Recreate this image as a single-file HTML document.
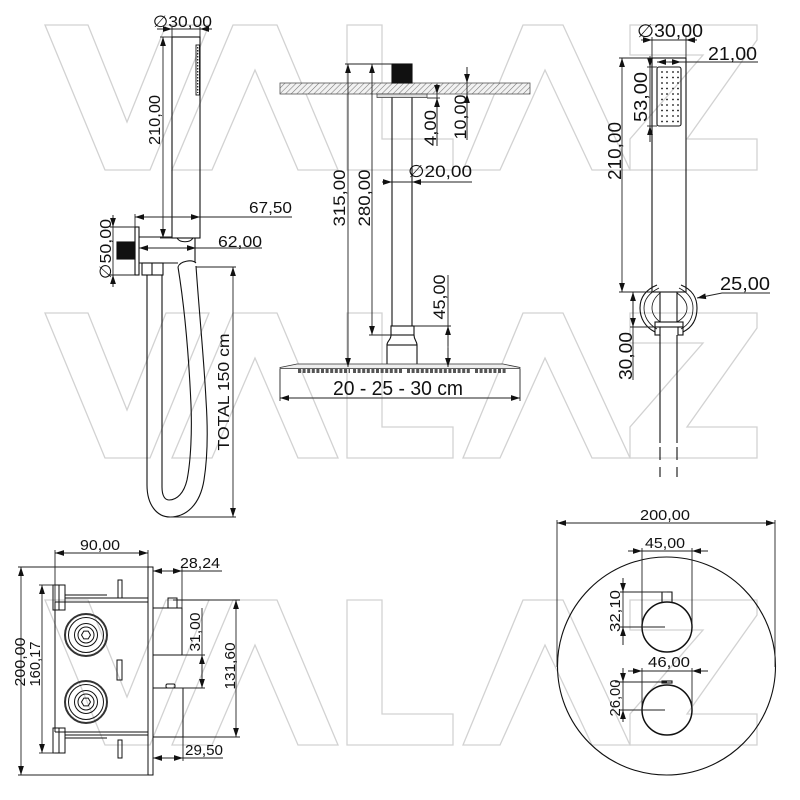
<!DOCTYPE html>
<html><head><meta charset="utf-8"><style>
html,body{margin:0;padding:0;background:#fff;}
svg{display:block;}
text{font-family:"Liberation Sans","DejaVu Sans",sans-serif;fill:#111;}
</style></head><body>
<svg width="800" height="800" viewBox="0 0 800 800" xmlns="http://www.w3.org/2000/svg">
<defs>
<marker id="ar" markerUnits="userSpaceOnUse" markerWidth="10" markerHeight="7" refX="9" refY="3.5" orient="auto-start-reverse" viewBox="0 0 10 7"><path d="M0,0.6 L9,3.5 L0,6.4 Z" fill="#111"/></marker>
<pattern id="hatch" width="4" height="4" patternUnits="userSpaceOnUse" patternTransform="rotate(45)"><rect width="4" height="4" fill="#f2f2f2"/><line x1="0" y1="0" x2="0" y2="4" stroke="#777" stroke-width="1.1"/></pattern>
</defs>
<rect width="800" height="800" fill="#fff"/>

<!-- watermark -->
<g fill="none" stroke="#d2d2d2" stroke-width="1.3">
 <g>
  <path d="M45,25 L88,25 L127,122 L166,25 L209,25 L150,170 L105,170 Z"/>
  <path d="M233,25 L277,25 L338,170 L298,170 L255,70 L212,170 L172,170 Z"/>
  <path d="M347,25 L382,25 L382,139 L453,139 L453,170 L347,170 Z"/>
  <path d="M523,25 L563,25 L630,170 L592,170 L545,70 L500,170 L463,170 Z"/>
  <path d="M630,25 L757,25 L757,40 L687,139 L757,139 L757,170 L630,170 L630,139 L703,55 L630,55 Z"/>
 </g>
 <g transform="translate(0,288)">
  <path d="M45,25 L88,25 L127,122 L166,25 L209,25 L150,170 L105,170 Z"/>
  <path d="M233,25 L277,25 L338,170 L298,170 L255,70 L212,170 L172,170 Z"/>
  <path d="M347,25 L382,25 L382,139 L453,139 L453,170 L347,170 Z"/>
  <path d="M523,25 L563,25 L630,170 L592,170 L545,70 L500,170 L463,170 Z"/>
  <path d="M630,25 L757,25 L757,40 L687,139 L757,139 L757,170 L630,170 L630,139 L703,55 L630,55 Z"/>
 </g>
 <g transform="translate(0,575)">
  <path d="M45,25 L88,25 L127,122 L166,25 L209,25 L150,170 L105,170 Z"/>
  <path d="M233,25 L277,25 L338,170 L298,170 L255,70 L212,170 L172,170 Z"/>
  <path d="M347,25 L382,25 L382,139 L453,139 L453,170 L347,170 Z"/>
  <path d="M523,25 L563,25 L630,170 L592,170 L545,70 L500,170 L463,170 Z"/>
  <path d="M630,25 L757,25 L757,40 L687,139 L757,139 L757,170 L630,170 L630,139 L703,55 L630,55 Z"/>
 </g>
</g>

<!-- ============ TOP-LEFT HAND SHOWER ============ -->
<g stroke="#111" stroke-width="1.1" fill="none">
 <rect x="172" y="37" width="28" height="201"/>
 <rect x="196" y="45" width="3.5" height="50" stroke-width="0.9"/>
 <line x1="197.7" y1="47" x2="197.7" y2="93" stroke-dasharray="1.5 1.5" stroke-width="1.2"/>
 <rect x="135" y="227" width="4" height="48"/>
 <rect x="117" y="242" width="18" height="17" fill="#111"/>
 <path d="M139,237 H172"/>
 <path d="M139,263 H178"/>
 <path d="M195,238 V262"/>
 <path d="M177,238 C180,243 190,243 193,238"/>
 <path d="M178,267 C180,261 192,259 196,263"/>
 <rect x="142" y="263" width="21" height="12"/>
 <line x1="152" y1="263" x2="152" y2="275"/>
 <path d="M147,275 L147,485 C147,505 157,517 170,517 C186,517 200,505 204,480 C208,455 208,430 206,400 C204,360 199,310 196,266"/>
 <path d="M162,275 L162,487 C162,496 165,500 169,500 C177,500 184,493 187,480 C191,460 192,430 191,405 C189,360 185,310 178,267"/>
</g>
<g stroke="#222" stroke-width="0.9" fill="none">
 <line x1="157" y1="29" x2="212" y2="29"/>
 <line x1="157" y1="29" x2="172" y2="29" marker-end="url(#ar)"/>
 <line x1="212" y1="29" x2="200" y2="29" marker-end="url(#ar)"/>
 <line x1="172" y1="27" x2="172" y2="37"/>
 <line x1="200" y1="27" x2="200" y2="37"/>
 <line x1="163" y1="37" x2="163" y2="238" marker-start="url(#ar)" marker-end="url(#ar)"/>
 <line x1="160" y1="37" x2="172" y2="37"/>
 <line x1="160" y1="238" x2="172" y2="238"/>
 <line x1="135" y1="217" x2="200" y2="217" marker-start="url(#ar)" marker-end="url(#ar)"/>
 <line x1="200" y1="217" x2="292" y2="217"/>
 <line x1="135" y1="214" x2="135" y2="227"/>
 <line x1="139" y1="248" x2="196" y2="248" marker-start="url(#ar)" marker-end="url(#ar)"/>
 <line x1="196" y1="248" x2="262" y2="248"/>
 <line x1="113" y1="215" x2="113" y2="287"/>
 <line x1="113" y1="215" x2="113" y2="227" marker-end="url(#ar)"/>
 <line x1="113" y1="287" x2="113" y2="275" marker-end="url(#ar)"/>
 <line x1="110" y1="227" x2="135" y2="227"/>
 <line x1="110" y1="275" x2="135" y2="275"/>
 <line x1="233" y1="267" x2="233" y2="517" marker-start="url(#ar)" marker-end="url(#ar)"/>
 <line x1="196" y1="267" x2="236" y2="267"/>
 <line x1="170" y1="517" x2="236" y2="517"/>
</g>
<text x="153" y="27" font-size="16" textLength="59" lengthAdjust="spacingAndGlyphs">∅30,00</text>
<text x="249" y="213" font-size="16" textLength="43" lengthAdjust="spacingAndGlyphs">67,50</text>
<text x="218" y="247" font-size="16" textLength="44" lengthAdjust="spacingAndGlyphs">62,00</text>
<text transform="translate(160,120) rotate(-90)" text-anchor="middle" font-size="16" textLength="50" lengthAdjust="spacingAndGlyphs">210,00</text>
<text transform="translate(111,249) rotate(-90)" text-anchor="middle" font-size="16" textLength="60" lengthAdjust="spacingAndGlyphs">∅50,00</text>
<text transform="translate(229,392) rotate(-90)" text-anchor="middle" font-size="16" textLength="117" lengthAdjust="spacingAndGlyphs">TOTAL 150 cm</text>

<!-- ============ CENTER CEILING SHOWER ============ -->
<rect x="280" y="83" width="250" height="11" fill="url(#hatch)" stroke="#555" stroke-width="0.8"/>
<g stroke="#111" stroke-width="1.1" fill="none">
 <rect x="392" y="64" width="20" height="19" fill="#111"/>
 <rect x="377" y="94" width="50" height="3.5" fill="#ddd" stroke="#444" stroke-width="0.8"/>
 <line x1="392" y1="97.5" x2="392" y2="326"/>
 <line x1="412" y1="97.5" x2="412" y2="326"/>
 <rect x="391" y="326" width="23" height="9"/>
 <path d="M391,335 C391,340 387,341 387,345"/>
 <path d="M414,335 C414,340 417,341 417,345"/>
 <rect x="387" y="345" width="30" height="20"/>
 <path d="M280,367.5 L297,364 L503,364 L520,367.5 L520,368.5 L280,368.5 Z" fill="#eee" stroke="#333" stroke-width="0.8"/>
</g>
<g stroke="#555" stroke-width="4" stroke-dasharray="3 1.6">
 <line x1="298" y1="371" x2="350" y2="371"/>
 <line x1="353" y1="371" x2="403" y2="371"/>
 <line x1="407" y1="371" x2="470" y2="371"/>
 <line x1="475" y1="371" x2="507" y2="371"/>
</g>
<g stroke="#222" stroke-width="0.9" fill="none">
 <line x1="348" y1="64" x2="348" y2="367" marker-start="url(#ar)" marker-end="url(#ar)"/>
 <line x1="345" y1="64" x2="392" y2="64"/>
 <line x1="372" y1="64" x2="372" y2="335" marker-start="url(#ar)" marker-end="url(#ar)"/>
 <line x1="369" y1="335" x2="391" y2="335"/>
 <line x1="467" y1="67" x2="467" y2="140"/>
 <line x1="467" y1="67" x2="467" y2="83" marker-end="url(#ar)"/>
 <line x1="467" y1="140" x2="467" y2="94" marker-end="url(#ar)"/>
 <line x1="437" y1="84" x2="437" y2="146"/>
 <line x1="437" y1="84" x2="437" y2="94" marker-end="url(#ar)"/>
 <line x1="437" y1="146" x2="437" y2="98" marker-end="url(#ar)"/>
 <line x1="427" y1="98" x2="440" y2="98"/>
 <line x1="382" y1="182" x2="472" y2="182"/>
 <line x1="382" y1="182" x2="392" y2="182" marker-end="url(#ar)"/>
 <line x1="422" y1="182" x2="412" y2="182" marker-end="url(#ar)"/>
 <line x1="448" y1="275" x2="448" y2="367"/>
 <line x1="448" y1="346" x2="448" y2="326" marker-end="url(#ar)"/>
 <line x1="448" y1="348" x2="448" y2="367" marker-end="url(#ar)"/>
 <line x1="414" y1="326" x2="451" y2="326"/>
 <line x1="280" y1="398" x2="520" y2="398" marker-start="url(#ar)" marker-end="url(#ar)"/>
 <line x1="280" y1="369" x2="280" y2="401"/>
 <line x1="520" y1="369" x2="520" y2="401"/>
</g>
<text x="408" y="177" font-size="17" textLength="64" lengthAdjust="spacingAndGlyphs">∅20,00</text>
<text x="333" y="395" font-size="20" textLength="130" lengthAdjust="spacingAndGlyphs">20 - 25 - 30 cm</text>
<text transform="translate(345,198) rotate(-90)" text-anchor="middle" font-size="17" textLength="57" lengthAdjust="spacingAndGlyphs">315,00</text>
<text transform="translate(370,198) rotate(-90)" text-anchor="middle" font-size="17" textLength="57" lengthAdjust="spacingAndGlyphs">280,00</text>
<text transform="translate(436,128) rotate(-90)" text-anchor="middle" font-size="17" textLength="36" lengthAdjust="spacingAndGlyphs">4,00</text>
<text transform="translate(466,117) rotate(-90)" text-anchor="middle" font-size="17" textLength="45" lengthAdjust="spacingAndGlyphs">10,00</text>
<text transform="translate(445,297) rotate(-90)" text-anchor="middle" font-size="17" textLength="45" lengthAdjust="spacingAndGlyphs">45,00</text>

<!-- ============ RIGHT HAND SHOWER ============ -->
<g stroke="#111" stroke-width="1.1" fill="none">
 <rect x="652" y="58" width="34" height="234"/>
 <rect x="657" y="67" width="24" height="59" rx="2"/>
 <path d="M657,285 C645,290 640,298 640,308 C640,318 645,327 655,332"/>
 <path d="M659,288 C649,293 644,300 644,308 C644,316 648,324 657,329" stroke-width="0.8"/>
 <path d="M681,285 C693,290 697,298 697,308 C697,318 693,327 683,332"/>
 <path d="M679,288 C689,293 693,300 693,308 C693,316 690,324 681,329" stroke-width="0.8"/>
 <path d="M660,293 C654,298 652,303 652,308 C652,313 655,318 660,322" stroke-width="0.8"/>
 <path d="M677,293 C684,298 687,303 687,308 C687,313 684,318 677,322" stroke-width="0.8"/>
 <line x1="660" y1="292" x2="660" y2="322"/>
 <line x1="677" y1="292" x2="677" y2="322"/>
 <rect x="655" y="322" width="28" height="5"/>
 <rect x="655" y="327" width="5" height="8"/>
 <rect x="678" y="327" width="5" height="8"/>
 <line x1="660" y1="335" x2="660" y2="443"/>
 <line x1="677" y1="335" x2="677" y2="443"/>
 <line x1="660" y1="447" x2="660" y2="460"/>
 <line x1="677" y1="447" x2="677" y2="460"/>
 <line x1="660" y1="467" x2="660" y2="477"/>
 <line x1="677" y1="467" x2="677" y2="477"/>
</g>
<g fill="#111">
 <circle cx="662" cy="72" r="0.9"/><circle cx="667" cy="72" r="0.9"/><circle cx="673" cy="72" r="0.9"/><circle cx="678" cy="72" r="0.9"/>
 <circle cx="662" cy="77.5" r="0.9"/><circle cx="667" cy="77.5" r="0.9"/><circle cx="673" cy="77.5" r="0.9"/><circle cx="678" cy="77.5" r="0.9"/>
 <circle cx="662" cy="83" r="0.9"/><circle cx="667" cy="83" r="0.9"/><circle cx="673" cy="83" r="0.9"/><circle cx="678" cy="83" r="0.9"/>
 <circle cx="662" cy="88.5" r="0.9"/><circle cx="667" cy="88.5" r="0.9"/><circle cx="673" cy="88.5" r="0.9"/><circle cx="678" cy="88.5" r="0.9"/>
 <circle cx="662" cy="94" r="0.9"/><circle cx="667" cy="94" r="0.9"/><circle cx="673" cy="94" r="0.9"/><circle cx="678" cy="94" r="0.9"/>
 <circle cx="662" cy="99.5" r="0.9"/><circle cx="667" cy="99.5" r="0.9"/><circle cx="673" cy="99.5" r="0.9"/><circle cx="678" cy="99.5" r="0.9"/>
 <circle cx="662" cy="105" r="0.9"/><circle cx="667" cy="105" r="0.9"/><circle cx="673" cy="105" r="0.9"/><circle cx="678" cy="105" r="0.9"/>
 <circle cx="662" cy="110.5" r="0.9"/><circle cx="667" cy="110.5" r="0.9"/><circle cx="673" cy="110.5" r="0.9"/><circle cx="678" cy="110.5" r="0.9"/>
 <circle cx="662" cy="116" r="0.9"/><circle cx="667" cy="116" r="0.9"/><circle cx="673" cy="116" r="0.9"/><circle cx="678" cy="116" r="0.9"/>
 <circle cx="662" cy="121.5" r="0.9"/><circle cx="667" cy="121.5" r="0.9"/><circle cx="673" cy="121.5" r="0.9"/><circle cx="678" cy="121.5" r="0.9"/>
</g>
<g stroke="#222" stroke-width="0.9" fill="none">
 <line x1="643" y1="40" x2="697" y2="40"/>
 <line x1="641" y1="40" x2="652" y2="40" marker-end="url(#ar)"/>
 <line x1="697" y1="40" x2="686" y2="40" marker-end="url(#ar)"/>
 <line x1="652" y1="37" x2="652" y2="58"/>
 <line x1="686" y1="37" x2="686" y2="58"/>
 <line x1="669" y1="62" x2="758" y2="62"/>
 <line x1="669" y1="62" x2="657" y2="62" marker-end="url(#ar)"/>
 <line x1="669" y1="62" x2="681" y2="62" marker-end="url(#ar)"/>
 <line x1="650" y1="58" x2="650" y2="142"/>
 <line x1="650" y1="56" x2="650" y2="67" marker-end="url(#ar)"/>
 <line x1="650" y1="142" x2="650" y2="126" marker-end="url(#ar)"/>
 <line x1="647" y1="67" x2="657" y2="67"/>
 <line x1="647" y1="126" x2="657" y2="126"/>
 <line x1="622" y1="58" x2="622" y2="292" marker-start="url(#ar)" marker-end="url(#ar)"/>
 <line x1="619" y1="58" x2="652" y2="58"/>
 <line x1="619" y1="292" x2="652" y2="292"/>
 <path d="M697,298 L722,293 L770,293" marker-start="url(#ar)"/>
 <line x1="633" y1="292" x2="633" y2="380"/>
 <line x1="633" y1="310" x2="633" y2="292" marker-end="url(#ar)"/>
 <line x1="633" y1="310" x2="633" y2="327" marker-end="url(#ar)"/>
 <line x1="630" y1="327" x2="660" y2="327"/>
</g>
<text x="637" y="37" font-size="18" textLength="66" lengthAdjust="spacingAndGlyphs">∅30,00</text>
<text x="708" y="60" font-size="18" textLength="49" lengthAdjust="spacingAndGlyphs">21,00</text>
<text x="720" y="290" font-size="18" textLength="50" lengthAdjust="spacingAndGlyphs">25,00</text>
<text transform="translate(647,97) rotate(-90)" text-anchor="middle" font-size="18" textLength="50" lengthAdjust="spacingAndGlyphs">53,00</text>
<text transform="translate(621,151) rotate(-90)" text-anchor="middle" font-size="18" textLength="58" lengthAdjust="spacingAndGlyphs">210,00</text>
<text transform="translate(632,356) rotate(-90)" text-anchor="middle" font-size="18" textLength="48" lengthAdjust="spacingAndGlyphs">30,00</text>

<!-- ============ BOTTOM-LEFT VALVE ============ -->
<g stroke="#111" stroke-width="1" fill="none">
 <rect x="148" y="567" width="5" height="208"/>
 <rect x="53" y="585" width="12" height="25"/>
 <line x1="59" y1="585" x2="59" y2="610"/>
 <rect x="53" y="728" width="12" height="25"/>
 <line x1="59" y1="728" x2="59" y2="753"/>
 <line x1="65" y1="595" x2="107" y2="595"/>
 <line x1="65" y1="598" x2="148" y2="598"/>
 <line x1="55" y1="602" x2="148" y2="602"/>
 <line x1="55" y1="732" x2="148" y2="732"/>
 <line x1="65" y1="735" x2="148" y2="735"/>
 <line x1="65" y1="738" x2="107" y2="738"/>
 <line x1="55" y1="602" x2="55" y2="732"/>
 <rect x="118" y="580" width="4" height="18"/>
 <rect x="118" y="740" width="4" height="18"/>
 <rect x="117" y="660" width="5" height="20"/>
 <circle cx="86" cy="635" r="21" stroke-width="2" stroke="#333"/>
 <circle cx="86" cy="635" r="17.5"/>
 <circle cx="86" cy="635" r="11.5"/>
 <circle cx="86" cy="635" r="8"/>
 <polygon points="90.5,635 88.2,638.9 83.8,638.9 81.5,635 83.8,631.1 88.2,631.1"/>
 <circle cx="86" cy="702" r="21" stroke-width="2" stroke="#333"/>
 <circle cx="86" cy="702" r="17.5"/>
 <circle cx="86" cy="702" r="11.5"/>
 <circle cx="86" cy="702" r="8"/>
 <polygon points="90.5,702 88.2,705.9 83.8,705.9 81.5,702 83.8,698.1 88.2,698.1"/>
 <rect x="153" y="608" width="29" height="47"/>
 <rect x="168" y="598" width="9" height="10"/>
 <rect x="153" y="688" width="30" height="49"/>
 <rect x="166" y="684" width="9" height="4" rx="1.5"/>
</g>
<g stroke="#222" stroke-width="0.9" fill="none">
 <line x1="21" y1="567" x2="21" y2="775" marker-start="url(#ar)" marker-end="url(#ar)"/>
 <line x1="18" y1="567" x2="148" y2="567"/>
 <line x1="18" y1="775" x2="148" y2="775"/>
 <line x1="42" y1="585" x2="42" y2="753" marker-start="url(#ar)" marker-end="url(#ar)"/>
 <line x1="39" y1="585" x2="55" y2="585"/>
 <line x1="39" y1="753" x2="55" y2="753"/>
 <line x1="55" y1="553" x2="148" y2="553" marker-start="url(#ar)" marker-end="url(#ar)"/>
 <line x1="55" y1="550" x2="55" y2="602"/>
 <line x1="148" y1="550" x2="148" y2="567"/>
 <line x1="153" y1="571" x2="222" y2="571"/>
 <line x1="167" y1="571" x2="153" y2="571" marker-end="url(#ar)"/>
 <line x1="167" y1="571" x2="182" y2="571" marker-end="url(#ar)"/>
 <line x1="182" y1="568" x2="182" y2="608"/>
 <line x1="202" y1="608" x2="202" y2="688"/>
 <line x1="202" y1="671" x2="202" y2="655" marker-end="url(#ar)"/>
 <line x1="202" y1="671" x2="202" y2="688" marker-end="url(#ar)"/>
 <line x1="182" y1="655" x2="205" y2="655"/>
 <line x1="175" y1="688" x2="205" y2="688"/>
 <line x1="236" y1="600" x2="236" y2="737" marker-start="url(#ar)" marker-end="url(#ar)"/>
 <line x1="173" y1="600" x2="240" y2="600"/>
 <line x1="183" y1="737" x2="240" y2="737"/>
 <line x1="153" y1="758" x2="223" y2="758"/>
 <line x1="168" y1="758" x2="153" y2="758" marker-end="url(#ar)"/>
 <line x1="168" y1="758" x2="183" y2="758" marker-end="url(#ar)"/>
 <line x1="183" y1="737" x2="183" y2="761"/>
</g>
<text x="80" y="550" font-size="15" textLength="40" lengthAdjust="spacingAndGlyphs">90,00</text>
<text x="180" y="568" font-size="15" textLength="40" lengthAdjust="spacingAndGlyphs">28,24</text>
<text x="185" y="755" font-size="15" textLength="38" lengthAdjust="spacingAndGlyphs">29,50</text>
<text transform="translate(25,662) rotate(-90)" text-anchor="middle" font-size="15" textLength="49" lengthAdjust="spacingAndGlyphs">200,00</text>
<text transform="translate(40,664) rotate(-90)" text-anchor="middle" font-size="15" textLength="45" lengthAdjust="spacingAndGlyphs">160,17</text>
<text transform="translate(200,632) rotate(-90)" text-anchor="middle" font-size="15" textLength="39" lengthAdjust="spacingAndGlyphs">31,00</text>
<text transform="translate(235,666) rotate(-90)" text-anchor="middle" font-size="15" textLength="47" lengthAdjust="spacingAndGlyphs">131,60</text>

<!-- ============ BOTTOM-RIGHT PLATE ============ -->
<g stroke="#111" stroke-width="1.1" fill="none">
 <circle cx="666.5" cy="666" r="109"/>
 <circle cx="667" cy="627" r="25" stroke-width="1.5"/>
 <path d="M662,602 V592 H672 V602"/>
 <circle cx="667" cy="710" r="25" stroke-width="1.5"/>
 <rect x="662" y="681" width="10" height="2"/>
</g>
<g stroke="#222" stroke-width="0.9" fill="none">
 <line x1="557" y1="523" x2="775" y2="523" marker-start="url(#ar)" marker-end="url(#ar)"/>
 <line x1="557" y1="520" x2="557" y2="667"/>
 <line x1="775" y1="520" x2="775" y2="667"/>
 <line x1="628" y1="551" x2="708" y2="551"/>
 <line x1="628" y1="551" x2="642" y2="551" marker-end="url(#ar)"/>
 <line x1="706" y1="551" x2="692" y2="551" marker-end="url(#ar)"/>
 <line x1="642" y1="548" x2="642" y2="627"/>
 <line x1="692" y1="548" x2="692" y2="627"/>
 <line x1="623" y1="578" x2="623" y2="645"/>
 <line x1="623" y1="578" x2="623" y2="592" marker-end="url(#ar)"/>
 <line x1="623" y1="645" x2="623" y2="627" marker-end="url(#ar)"/>
 <line x1="620" y1="592" x2="667" y2="592"/>
 <line x1="620" y1="627" x2="665" y2="627"/>
 <line x1="628" y1="671" x2="708" y2="671"/>
 <line x1="628" y1="671" x2="642" y2="671" marker-end="url(#ar)"/>
 <line x1="706" y1="671" x2="692" y2="671" marker-end="url(#ar)"/>
 <line x1="642" y1="668" x2="642" y2="710"/>
 <line x1="692" y1="668" x2="692" y2="710"/>
 <line x1="623" y1="668" x2="623" y2="722"/>
 <line x1="623" y1="668" x2="623" y2="682" marker-end="url(#ar)"/>
 <line x1="623" y1="722" x2="623" y2="710" marker-end="url(#ar)"/>
 <line x1="615" y1="682" x2="667" y2="682"/>
 <line x1="620" y1="710" x2="665" y2="710"/>
</g>
<text x="640" y="520" font-size="15" textLength="50" lengthAdjust="spacingAndGlyphs">200,00</text>
<text x="645" y="548" font-size="15" textLength="40" lengthAdjust="spacingAndGlyphs">45,00</text>
<text x="648" y="667" font-size="15" textLength="42" lengthAdjust="spacingAndGlyphs">46,00</text>
<text transform="translate(620,611) rotate(-90)" text-anchor="middle" font-size="15" textLength="42" lengthAdjust="spacingAndGlyphs">32,10</text>
<text transform="translate(620,698) rotate(-90)" text-anchor="middle" font-size="15" textLength="37" lengthAdjust="spacingAndGlyphs">26,00</text>
</svg>
</body></html>
